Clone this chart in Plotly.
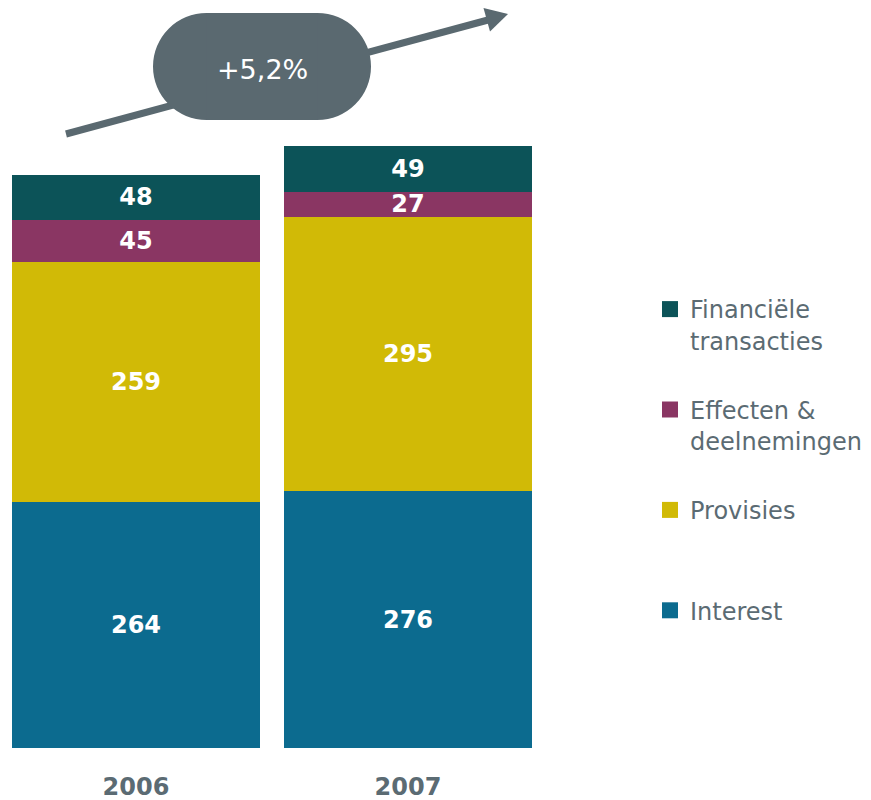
import plotly.graph_objects as go

years = ["2006", "2007"]
interest = [264, 276]
provisies = [259, 295]
effecten = [45, 27]
financiele = [48, 49]
growth_label = "+5,2%"

series = [
    ("Interest", interest, "#0c6b8f"),
    ("Provisies", provisies, "#d1ba06"),
    ("Effecten &<br>deelnemingen", effecten, "#8a3663"),
    ("Financiële<br>transacties", financiele, "#0c5358"),
]

# page has an 8px body margin; figure is sized to fit the 871x800 window
OFF = 8
W, H = 871 - OFF, 800 - OFF
BASE = 748            # page y of the bar baseline
PLOT_H = BASE - OFF
GRAY = "#5a6970"
PX_PER_UNIT = 0.9302
CAT_PX = 272

def X(px):
    return (px - OFF) / W

def Y(py):
    return 1 - (py - OFF) / PLOT_H

fig = go.Figure()
for name, vals, col in series:
    fig.add_trace(go.Bar(
        x=years, y=vals, name=name, marker=dict(color=col, line=dict(width=0)),
        text=[str(v) for v in vals], textposition="inside", insidetextanchor="middle",
        textangle=0, constraintext="none",
        textfont=dict(family="DejaVu Sans", size=24, color="white", weight="bold"),
        showlegend=False, hoverinfo="skip",
    ))
for i, (name, vals, col) in enumerate(reversed(series)):
    label = name if "<br>" in name else name + "<br> "
    fig.add_trace(go.Scatter(
        x=[None], y=[None], mode="markers", name=label,
        marker=dict(symbol="square", size=16, color=col),
        showlegend=True, legendgroup=f"g{i}", hoverinfo="skip",
    ))

shapes = [
    dict(type="line", xref="paper", yref="paper", x0=X(66), y0=Y(134), x1=X(488), y1=Y(20),
         line=dict(color=GRAY, width=7), layer="above"),
    dict(type="path", xref="paper", yref="paper",
         path=f"M {X(508)},{Y(14)} L {X(483.5)},{Y(8)} L {X(490)},{Y(31.5)} Z",
         fillcolor=GRAY, line=dict(width=0), layer="above"),
    dict(type="circle", xref="paper", yref="paper", x0=X(153), x1=X(260), y0=Y(120), y1=Y(13),
         fillcolor=GRAY, line=dict(width=0), layer="above"),
    dict(type="circle", xref="paper", yref="paper", x0=X(264), x1=X(371), y0=Y(120), y1=Y(13),
         fillcolor=GRAY, line=dict(width=0), layer="above"),
    dict(type="rect", xref="paper", yref="paper", x0=X(206.5), x1=X(317.5), y0=Y(120), y1=Y(13),
         fillcolor=GRAY, line=dict(width=0), layer="above"),
]

fig.update_layout(
    width=W, height=H,
    margin=dict(l=0, r=0, t=0, b=H - PLOT_H, pad=0),
    paper_bgcolor="white", plot_bgcolor="white",
    barmode="stack", bargap=24 / CAT_PX,
    xaxis=dict(domain=[0, (544 - OFF) / W], range=[-0.5 + OFF / CAT_PX, 1.5], automargin=False,
               showgrid=False, zeroline=False, showline=False, ticks="", ticklabelstandoff=22,
               tickfont=dict(family="DejaVu Sans", size=24, color="#5b6b73", weight="bold")),
    yaxis=dict(range=[0, PLOT_H / PX_PER_UNIT], visible=False, showgrid=False, zeroline=False),
    legend=dict(x=X(650), y=Y(287), xanchor="left", yanchor="top",
                traceorder="grouped", tracegroupgap=35, valign="top",
                font=dict(family="DejaVu Sans", size=24, color="#5b6b73"),
                bgcolor="rgba(0,0,0,0)", borderwidth=0),
    shapes=shapes,
    annotations=[dict(text=growth_label, xref="paper", yref="paper", x=X(262), y=Y(69),
                      showarrow=False, xanchor="center", yanchor="middle",
                      font=dict(family="DejaVu Sans", size=27, color="white"))],
    showlegend=True,
)

fig.write_html("out.html")
